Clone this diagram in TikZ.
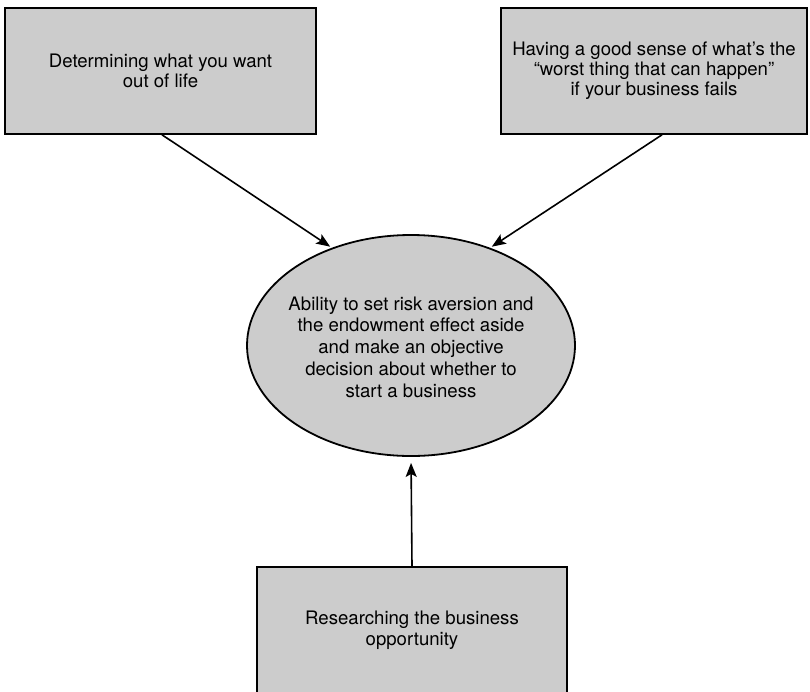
\documentclass[tikz,border=0pt]{standalone}
\usepackage{fontspec}
\setmainfont{TeX Gyre Heros}
\usetikzlibrary{arrows.meta,shapes.geometric}
\begin{document}
\begin{tikzpicture}[x=1pt,y=-1pt,
  boxnode/.style={draw=black,line width=1.6pt,fill=boxgray,rectangle,inner sep=0pt,
    minimum height=126pt,align=center,font=\fontsize{18.6}{19.8}\selectfont},
  ovalnode/.style={draw=black,line width=1.8pt,fill=boxgray,ellipse,inner sep=0pt,
    minimum width=328pt,minimum height=221pt},
  labeltext/.style={align=center,inner sep=0pt},
  arrowline/.style={line width=1.6pt,-{Stealth[length=14pt,width=11pt,inset=3pt]}}
]
\definecolor{boxgray}{HTML}{CCCCCC}
\useasboundingbox (0,0) rectangle (810,691);
\node[boxnode,minimum width=311pt] (b1) at (160.5,71) {Determining what you want\\out of life};
\node[boxnode,minimum width=306pt] (b2) at (654,71) {Having a good sense of what’s the\\“worst thing that can happen”\\if your business fails};
\node[ovalnode] (e) at (411,345.5) {};
\node[labeltext,font=\fontsize{18.6}{21.7}\selectfont] (et) at (411,347) {Ability to set risk aversion and\\the endowment effect aside\\and make an objective\\decision about whether to\\start a business};
\node[boxnode,minimum width=310pt,minimum height=130pt] (b3) at (412,632) {};
\node[labeltext,font=\fontsize{18.6}{20.5}\selectfont,anchor=north] (t3) at (412,611) {Researching the business\\opportunity};
\draw[arrowline,shorten >=2pt] ([xshift=1.5pt]b1.south) -- (e.129);
\draw[arrowline,shorten >=2pt] ([xshift=8pt]b2.south) -- (e.51);
\draw[arrowline,shorten >=6pt] (b3.north) -- (e.south);
\end{tikzpicture}
\end{document}
